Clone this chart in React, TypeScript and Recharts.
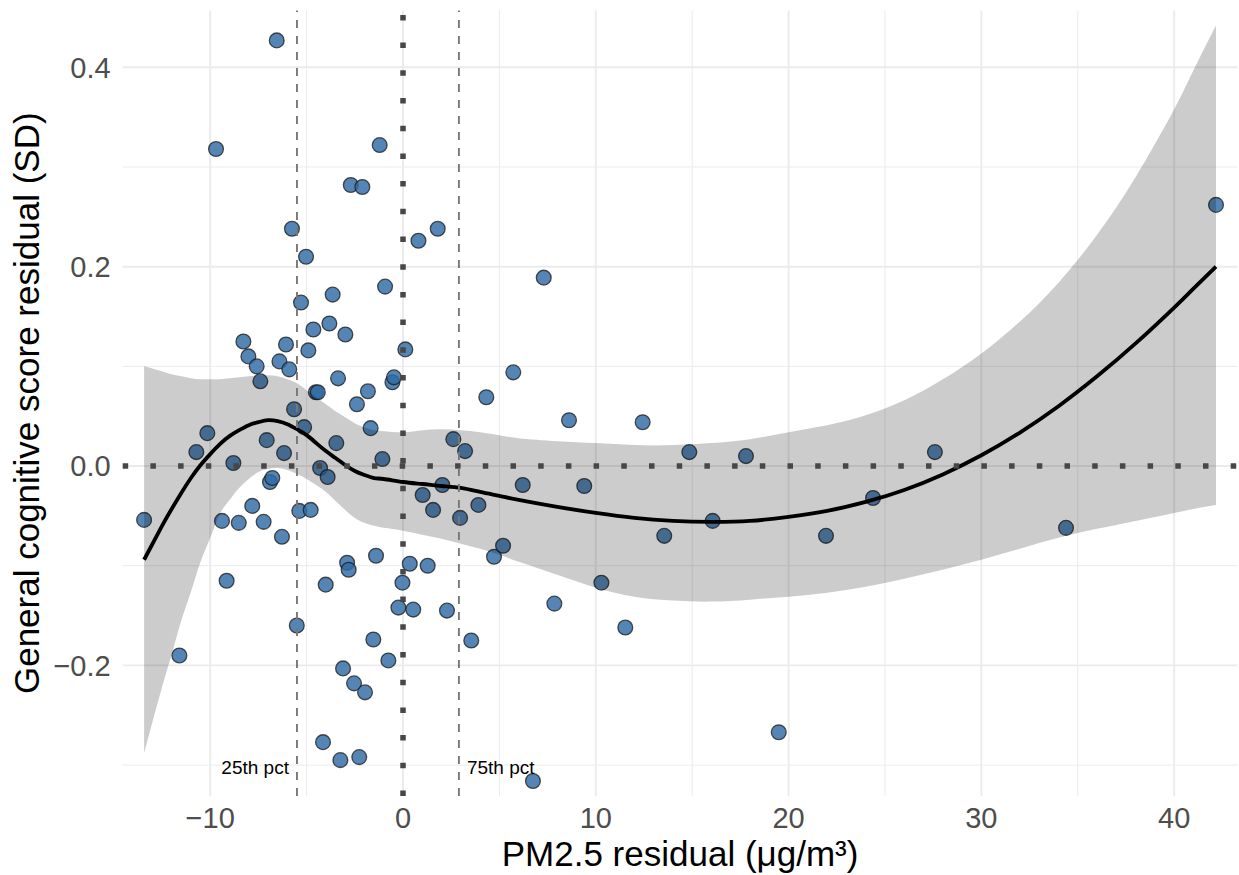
import React from 'react';
import {
  ComposedChart,
  XAxis,
  YAxis,
  Scatter,
  Area,
  Line,
  ReferenceLine,
  ReferenceDot,
} from 'recharts';

// ---- Observed points ----
const pointX = [
  -13.43, -11.6, -10.72, -10.15, -9.7, -9.39, -9.15, -8.8, -8.52, -8.28, -8.02, -7.82, -7.59, -7.4, -7.23,
  -7.07, -6.9, -6.78, -6.55, -6.41, -6.28, -6.17, -6.07, -5.9, -5.76, -5.65, -5.51, -5.38, -5.29, -5.13,
  -5.03, -4.91, -4.79, -4.65, -4.52, -4.42, -4.3, -4.15, -4.01, -3.91, -3.82, -3.65, -3.46, -3.37, -3.25,
  -3.11, -2.99, -2.9, -2.82, -2.71, -2.54, -2.39, -2.27, -2.11, -1.97, -1.82, -1.68, -1.54, -1.4, -1.21,
  -1.07, -0.93, -0.76, -0.55, -0.47, -0.24, -0.03, 0.12, 0.35, 0.53, 0.8, 1.02, 1.28, 1.56, 1.8,
  2.04, 2.28, 2.61, 2.96, 3.22, 3.54, 3.91, 4.32, 4.72, 5.19, 5.72, 6.21, 6.74, 7.3, 7.85,
  8.61, 9.4, 10.29, 11.53, 12.43, 13.55, 14.85, 16.06, 17.79, 19.49, 21.94, 24.38, 27.59, 34.39, 42.17,
];
const pointY = [
  -0.054, -0.19, 0.014, 0.033, 0.318, -0.055, -0.115, 0.003, -0.057, 0.125, 0.11, -0.04, 0.1, 0.085, -0.056,
  0.026, -0.016, -0.012, 0.427, 0.105, -0.071, 0.013, 0.122, 0.097, 0.238, 0.057, -0.16, -0.045, 0.164, 0.039,
  0.21, 0.116, -0.044, 0.137, 0.074, 0.074, -0.002, -0.277, -0.119, -0.011, 0.143, 0.172, 0.023, 0.088, -0.295,
  -0.203, 0.132, -0.097, -0.104, 0.282, -0.218, 0.062, -0.292, 0.28, -0.227, 0.075, 0.038, -0.174, -0.09, 0.322,
  0.007, 0.18, -0.195, 0.084, 0.089, -0.142, -0.117, 0.117, -0.098, -0.144, 0.226, -0.029, -0.1, -0.044, 0.238,
  -0.019, -0.145, 0.027, -0.052, 0.015, -0.175, -0.039, 0.069, -0.091, -0.08, 0.094, -0.019, -0.316, 0.189, -0.138,
  0.046, -0.02, -0.117, -0.162, 0.044, -0.07, 0.014, -0.055, 0.01, -0.267, -0.07, -0.032, 0.014, -0.062, 0.262,
];

// ---- LOESS fit with confidence band ----
const smoothX = [
  -13.43, -12.5, -12, -11.5, -11, -10.5, -10, -9.5, -9, -8.5, -8, -7.5, -7, -6.5, -6, -5.5, -5, -4.5, -4, -3.5,
  -3, -2.5, -2, -1.5, -1, 0, 1, 2, 3, 4, 5, 6, 8, 10, 12, 14, 16, 18, 20, 22, 24, 26, 28, 30, 32, 34, 36, 38, 40,
  41, 42.17,
];
const smoothFit = [
  -0.094, -0.06, -0.043, -0.027, -0.012, 0.001, 0.012, 0.022, 0.03, 0.036, 0.041, 0.044, 0.046, 0.045, 0.042, 0.037,
  0.031, 0.023, 0.015, 0.008, 0.001, -0.005, -0.009, -0.012, -0.013, -0.016, -0.018, -0.02, -0.022, -0.026, -0.03,
  -0.034, -0.041, -0.047, -0.052, -0.055, -0.056, -0.055, -0.051, -0.045, -0.036, -0.024, -0.0084, 0.0108, 0.0336,
  0.06, 0.09, 0.123, 0.159, 0.178, 0.2,
];
const smoothLower = [
  -0.288, -0.222, -0.189, -0.155, -0.126, -0.096, -0.072, -0.048, -0.034, -0.022, -0.013, -0.006, -0.003, -0.002,
  -0.004, -0.008, -0.013, -0.019, -0.026, -0.035, -0.044, -0.052, -0.057, -0.06, -0.062, -0.065, -0.069, -0.073,
  -0.078, -0.083, -0.089, -0.096, -0.109, -0.122, -0.131, -0.135, -0.136, -0.134, -0.131, -0.127, -0.121, -0.113,
  -0.104, -0.094, -0.083, -0.072, -0.063, -0.055, -0.047, -0.043, -0.039,
];
const smoothUpper = [
  0.1, 0.095, 0.092, 0.09, 0.088, 0.087, 0.087, 0.087, 0.088, 0.089, 0.09, 0.091, 0.091, 0.09, 0.087, 0.083, 0.076,
  0.069, 0.062, 0.055, 0.049, 0.043, 0.039, 0.036, 0.035, 0.034, 0.036, 0.037, 0.036, 0.034, 0.031, 0.028, 0.025,
  0.023, 0.021, 0.021, 0.023, 0.027, 0.034, 0.041, 0.051, 0.066, 0.087, 0.113, 0.145, 0.184, 0.232, 0.29, 0.358,
  0.397, 0.442,
];

// ---- Axes / annotations ----
const xTicks = [-10, 0, 10, 20, 30, 40];
const yTicks = [-0.2, 0, 0.2, 0.4];
const xMinor = [-5, 5, 15, 25, 35];
const yMinor = [-0.3, -0.1, 0.1, 0.3];
const pctX = [-5.5, 2.9];
const pctLabels = ['25th pct', '75th pct'];
const pctLabelY = -0.302;
const xDomain = [-14.54, 43.28];
const yDomain = [-0.331, 0.457];

const points = pointX.map((x, i) => ({ x, y: pointY[i] }));
const smoothData = smoothX.map((x, i) => ({
  x,
  fit: smoothFit[i],
  band: [smoothLower[i], smoothUpper[i]],
}));

const fmt = (v: number, d: number) => {
  const s = Math.abs(v).toFixed(d);
  return v < -1e-9 ? '\u2212' + s : s;
};

const FONT = '"Liberation Sans", Arial, Helvetica, sans-serif';

const PointShape = (p: any) => (
  <circle
    cx={p.cx}
    cy={p.cy}
    r={7.4}
    fill="#2f6aa3"
    fillOpacity={0.82}
    stroke="#1a1a1a"
    strokeOpacity={0.75}
    strokeWidth={1.3}
  />
);

const XTitle = (props: any) => {
  const vb = props.viewBox || {};
  return (
    <text x={vb.x + vb.width / 2} y={866} textAnchor="middle" fontSize={35} fill="#000" fontFamily={FONT}>
      PM2.5 residual (μg/m³)
    </text>
  );
};

const YTitle = (props: any) => {
  const vb = props.viewBox || {};
  const cx = 26;
  const cy = vb.y + vb.height / 2;
  return (
    <text
      x={cx}
      y={cy}
      transform={`rotate(-90 ${cx} ${cy})`}
      textAnchor="middle"
      dominantBaseline="central"
      fontSize={35}
      fill="#000"
      fontFamily={FONT}
    >
      General cognitive score residual (SD)
    </text>
  );
};

export default function App() {
  return (
    <div style={{ position: 'absolute', left: 0, top: 0, width: 1239, height: 875, background: '#fff' }}>
      <ComposedChart
        width={1239}
        height={875}
        data={smoothData}
        margin={{ top: 10.5, right: 1.6, left: 0, bottom: 0 }}
        style={{ fontFamily: FONT }}
      >
        {xMinor.map((v) => (
          <ReferenceLine key={'xm' + v} x={v} stroke="#EBEBEB" strokeWidth={1} zIndex={-90} />
        ))}
        {yMinor.map((v) => (
          <ReferenceLine key={'ym' + v} y={v} stroke="#EBEBEB" strokeWidth={1} zIndex={-90} />
        ))}
        {xTicks.map((v) => (
          <ReferenceLine key={'xM' + v} x={v} stroke="#EBEBEB" strokeWidth={1.9} zIndex={-80} />
        ))}
        {yTicks.map((v) => (
          <ReferenceLine key={'yM' + v} y={v} stroke="#EBEBEB" strokeWidth={1.9} zIndex={-80} />
        ))}
        <XAxis
          type="number"
          dataKey="x"
          domain={xDomain}
          allowDataOverflow
          ticks={xTicks}
          tickFormatter={(v: number) => fmt(v, 0)}
          axisLine={false}
          tickLine={false}
          tickSize={0}
          tickMargin={11}
          height={79}
          tick={{ fontSize: 29, fill: '#4D4D4D', fontFamily: FONT }}
          label={{ content: <XTitle /> }}
        />
        <YAxis
          type="number"
          domain={yDomain}
          allowDataOverflow
          ticks={yTicks}
          tickFormatter={(v: number) => fmt(v, 1)}
          axisLine={false}
          tickLine={false}
          tickSize={0}
          tickMargin={12}
          width={122.7}
          tick={{ fontSize: 29, fill: '#4D4D4D', fontFamily: FONT }}
          label={{ content: <YTitle /> }}
        />
        <Scatter data={points} dataKey="y" shape={PointShape} isAnimationActive={false} zIndex={50} />
        <Area
          type="natural"
          dataKey="band"
          stroke="none"
          fill="#000"
          fillOpacity={0.2}
          isAnimationActive={false}
          activeDot={false}
          dot={false}
          zIndex={100}
        />
        <Line
          type="natural"
          dataKey="fit"
          stroke="#000"
          strokeWidth={3.8}
          dot={false}
          activeDot={false}
          isAnimationActive={false}
          zIndex={400}
        />
        <ReferenceLine y={0} stroke="#474747" strokeWidth={5.5} strokeDasharray="5.5 22.2" zIndex={450} />
        <ReferenceLine x={0} stroke="#474747" strokeWidth={5.5} strokeDasharray="5.5 22.2" zIndex={450} />
        {pctX.map((v) => (
          <ReferenceLine key={'p' + v} x={v} stroke="#777" strokeWidth={1.9} strokeDasharray="8 8" zIndex={450} />
        ))}
        {pctX.map((v, i) => (
          <ReferenceDot
            key={'pl' + v}
            x={v}
            y={pctLabelY}
            r={0}
            fill="none"
            stroke="none"
            zIndex={500}
            label={{
              value: pctLabels[i],
              position: i === 0 ? 'left' : 'right',
              offset: 8,
              fill: '#000',
              fontSize: 19,
              fontFamily: FONT,
            }}
          />
        ))}
      </ComposedChart>
    </div>
  );
}
